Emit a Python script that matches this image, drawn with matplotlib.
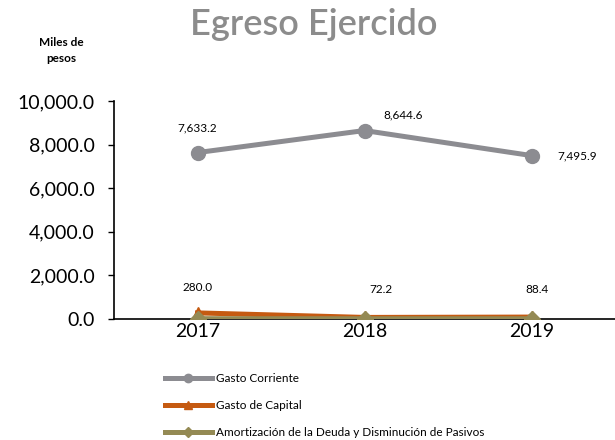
import matplotlib
matplotlib.use('Agg')
import matplotlib.pyplot as plt
from matplotlib.ticker import FuncFormatter

plt.rcParams['font.family'] = ['Lato', 'DejaVu Sans']

# datos
anios = ['2017', '2018', '2019']
gasto_corriente = [7633.2, 8644.6, 7495.9]
gasto_capital = [280.0, 72.2, 88.4]
amortizacion = [15.0, 10.0, 10.0]

fig = plt.figure(figsize=(6.15, 4.4), dpi=100)
ax = fig.add_axes([0.1854, 0.275, 0.8146, 0.4955])

x = range(len(anios))
ax.plot(x, gasto_corriente, color='#8C8C91', lw=3.6, marker='o', ms=10,
        label='Gasto Corriente', zorder=3)
ax.plot(x, gasto_capital, color='#C55A11', lw=3.6, marker='^', ms=9,
        label='Gasto de Capital', zorder=4)
ax.plot(x, amortizacion, color='#948A54', lw=3.6, marker='D', ms=8,
        label='Amortización de la Deuda y Disminución de Pasivos', zorder=5)

# etiquetas de datos
offs_corr = [(0, 18), (28, 11), (33, 0)]
for i, v in enumerate(gasto_corriente):
    ax.annotate(f'{v:,.1f}', (i, v), xytext=offs_corr[i], textcoords='offset points',
                ha='center', va='center', fontsize=8.5)
offs_cap = [(0, 18), (12, 20), (4, 20)]
for i, v in enumerate(gasto_capital):
    ax.annotate(f'{v:,.1f}', (i, v), xytext=offs_cap[i], textcoords='offset points',
                ha='center', va='center', fontsize=8.5)

ax.set_xlim(-0.5, 2.5)
ax.set_ylim(0, 10000)
ax.set_yticks(range(0, 10001, 2000))
ax.yaxis.set_major_formatter(FuncFormatter(lambda v, p: f'{v:,.1f}'))
ax.set_xticks(list(x))
ax.set_xticklabels(anios)
ax.tick_params(axis='y', labelsize=14, length=4, width=1, pad=10)
ax.tick_params(axis='x', labelsize=14, length=0, pad=3)
ax.spines['top'].set_visible(False)
ax.spines['right'].set_visible(False)
ax.spines['left'].set_linewidth(1.2)
ax.spines['bottom'].set_linewidth(1.2)

fig.text(0.51, 0.945, 'Egreso Ejercido', ha='center', va='center',
         fontsize=26, fontweight='semibold', color='#8C8C8C')
fig.text(0.1, 0.885, 'Miles de\npesos', ha='center', va='center',
         fontsize=8.5, fontweight='bold', linespacing=1.5)

fig.legend(loc='upper left', bbox_to_anchor=(0.268, 0.152), frameon=False,
           fontsize=8.5, handlelength=4.0, labelspacing=1.35, handletextpad=0.35,
           markerscale=0.6, borderaxespad=0, borderpad=0)

plt.savefig('out.png', dpi=100)
